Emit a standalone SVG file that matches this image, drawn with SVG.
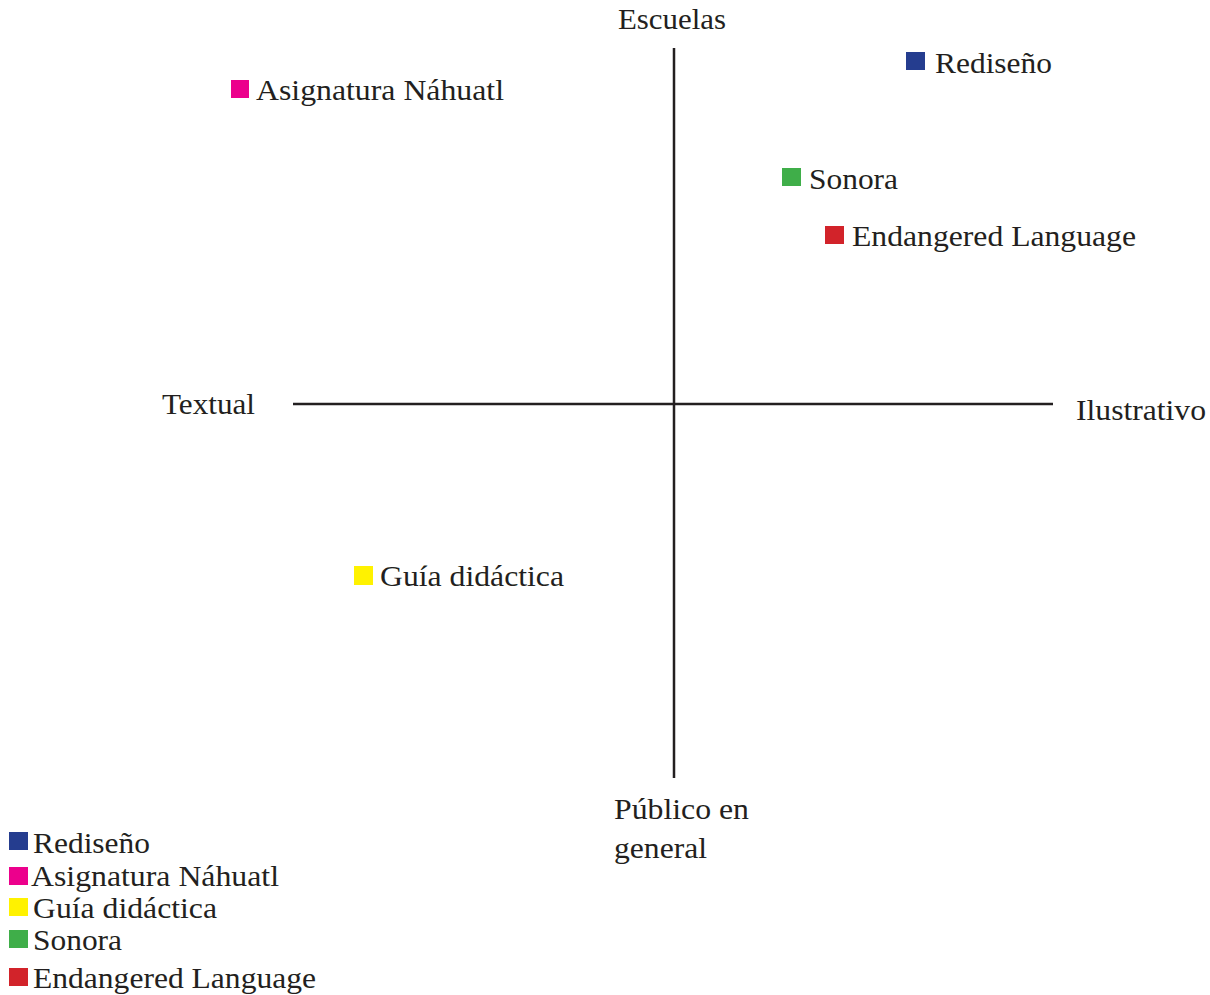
<svg xmlns="http://www.w3.org/2000/svg" width="1210" height="995" viewBox="0 0 1210 995">
<style>
text{font-family:"Liberation Serif","Times New Roman",serif;font-size:30px;fill:#231f20}
.ax{stroke:#231f20;stroke-width:2.5;fill:none}
.b{fill:#253d8f}.m{fill:#ec008c}.y{fill:#fff200}.g{fill:#3fae49}.r{fill:#d2232a}
</style>
<rect width="1210" height="995" fill="#fff"/>
<g id="axes">
<line class="ax" x1="674" y1="48" x2="674" y2="778"/>
<line class="ax" x1="293" y1="404" x2="1053" y2="404"/>
</g>
<g id="axis-labels">
<text x="618" y="29" textLength="108" lengthAdjust="spacingAndGlyphs">Escuelas</text>
<text x="162" y="414" textLength="93" lengthAdjust="spacingAndGlyphs">Textual</text>
<text x="1076" y="420" textLength="130" lengthAdjust="spacingAndGlyphs">Ilustrativo</text>
<text x="614" y="819" textLength="135" lengthAdjust="spacingAndGlyphs">Público en</text>
<text x="614" y="858" textLength="93" lengthAdjust="spacingAndGlyphs">general</text>
</g>
<g id="rediseno"><rect class="b" x="906" y="52" width="19" height="18"/><text x="935" y="73" textLength="117" lengthAdjust="spacingAndGlyphs">Rediseño</text></g>
<g id="asignatura"><rect class="m" x="231" y="80" width="18" height="18"/><text x="256" y="100" textLength="248" lengthAdjust="spacingAndGlyphs">Asignatura Náhuatl</text></g>
<g id="sonora"><rect class="g" x="782" y="168" width="19" height="18"/><text x="809" y="189" textLength="89" lengthAdjust="spacingAndGlyphs">Sonora</text></g>
<g id="endangered"><rect class="r" x="825" y="226" width="19" height="18"/><text x="852" y="246" textLength="284" lengthAdjust="spacingAndGlyphs">Endangered Language</text></g>
<g id="guia"><rect class="y" x="354" y="566" width="19" height="19"/><text x="380" y="586" textLength="184" lengthAdjust="spacingAndGlyphs">Guía didáctica</text></g>
<g id="legend">
<rect class="b" x="9" y="832" width="19" height="18"/><text x="33" y="853" textLength="117" lengthAdjust="spacingAndGlyphs">Rediseño</text>
<rect class="m" x="9" y="867" width="19" height="18"/><text x="31" y="886" textLength="248" lengthAdjust="spacingAndGlyphs">Asignatura Náhuatl</text>
<rect class="y" x="9" y="898" width="19" height="18"/><text x="33" y="918" textLength="184" lengthAdjust="spacingAndGlyphs">Guía didáctica</text>
<rect class="g" x="9" y="930" width="19" height="18"/><text x="33" y="950" textLength="89" lengthAdjust="spacingAndGlyphs">Sonora</text>
<rect class="r" x="9" y="968" width="19" height="18"/><text x="33" y="988" textLength="283" lengthAdjust="spacingAndGlyphs">Endangered Language</text>
</g>
</svg>
